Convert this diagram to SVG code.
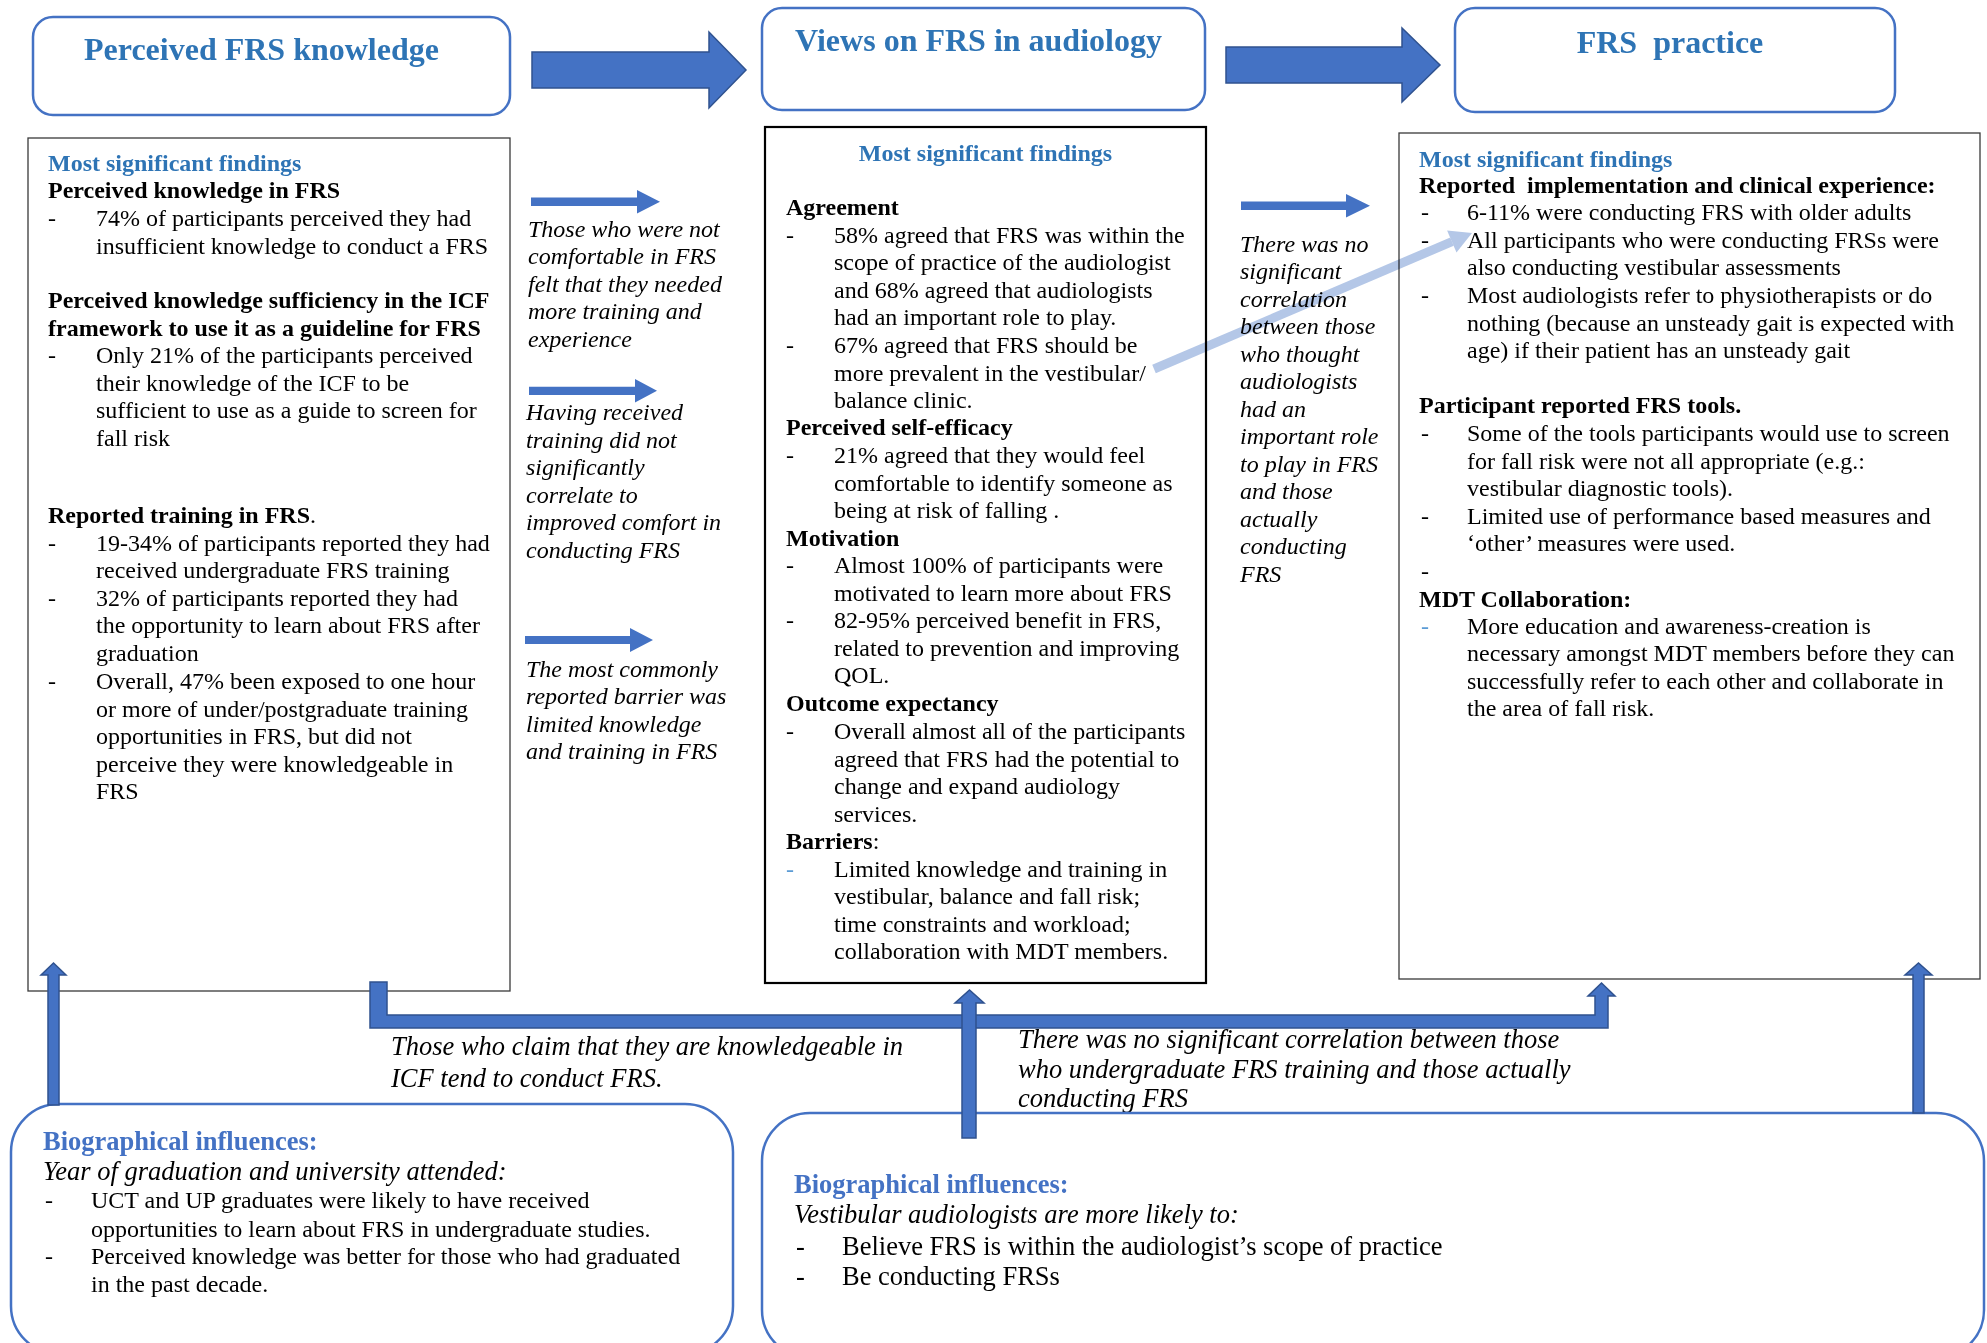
<svg xmlns="http://www.w3.org/2000/svg" width="1987" height="1343" viewBox="0 0 1987 1343">
<style>
text{font-family:"Liberation Serif","Times New Roman",serif;font-size:24px;fill:#000}
.b{font-weight:bold}
.i{font-style:italic}
.bl{fill:#2E74B5}
.bl2{fill:#4472C4}
.dl{fill:#5B9BD5}
.ttl{font-size:32px;font-weight:bold;fill:#2E74B5;text-anchor:middle}
.L{font-size:26.5px}
.hdr{fill:#fff;stroke:#4472C4;stroke-width:2.5}
.bio{fill:#fff;stroke:#4472C4;stroke-width:2.5}
.blk{fill:#4472C4;stroke:#2F528F;stroke-width:1.5}
.sm{fill:#4472C4}
</style>
<rect x="0" y="0" width="1987" height="1343" fill="#fff"/>

<g id="hdr-knowledge">
<rect class="hdr" x="33" y="17" width="477" height="98" rx="20"/>
<text class="ttl" x="261.5" y="59.5">Perceived FRS knowledge</text>
</g>
<g id="hdr-views">
<rect class="hdr" x="762" y="8" width="443" height="102" rx="20"/>
<text class="ttl" x="978.5" y="50.5">Views on FRS in audiology</text>
</g>
<g id="hdr-practice">
<rect class="hdr" x="1455" y="8" width="440" height="104" rx="20"/>
<text class="ttl" x="1670" y="52.5">FRS&#160; practice</text>
</g>

<g id="findings-knowledge">
<rect x="28" y="138" width="482" height="853" fill="#fff" stroke="#3a3a3a" stroke-width="1.3"/>
<text class="b bl" x="48" y="170.5">Most significant findings</text>
<text class="b" x="48" y="198.3">Perceived knowledge in FRS</text>
<text x="48" y="226">-</text><text x="96" y="226">74% of participants perceived they had</text>
<text x="96" y="253.5">insufficient knowledge to conduct a FRS</text>
<text class="b" x="48" y="308.3">Perceived knowledge sufficiency in the ICF</text>
<text class="b" x="48" y="335.7">framework to use it as a guideline for FRS</text>
<text x="48" y="363.3">-</text><text x="96" y="363.3">Only 21% of the participants perceived</text>
<text x="96" y="391">their knowledge of the ICF to be</text>
<text x="96" y="418.3">sufficient to use as a guide to screen for</text>
<text x="96" y="446">fall risk</text>
<text x="48" y="523.3"><tspan class="b">Reported training in FRS</tspan>.</text>
<text x="48" y="550.5">-</text><text x="96" y="550.5">19-34% of participants reported they had</text>
<text x="96" y="578.3">received undergraduate FRS training</text>
<text x="48" y="605.5">-</text><text x="96" y="605.5">32% of participants reported they had</text>
<text x="96" y="633.3">the opportunity to learn about FRS after</text>
<text x="96" y="661">graduation</text>
<text x="48" y="688.5">-</text><text x="96" y="688.5">Overall, 47% been exposed to one hour</text>
<text x="96" y="716.5">or more of under/postgraduate training</text>
<text x="96" y="744">opportunities in FRS, but did not</text>
<text x="96" y="771.7">perceive they were knowledgeable in</text>
<text x="96" y="799">FRS</text>
</g>

<g id="findings-views">
<rect x="765" y="127" width="441" height="856" fill="#fff" stroke="#000" stroke-width="2.2"/>
<text class="b bl" x="985.5" y="160.5" text-anchor="middle">Most significant findings</text>
<text class="b" x="786" y="215">Agreement</text>
<text x="786" y="242.7">-</text><text x="834" y="242.7">58% agreed that FRS was within the</text>
<text x="834" y="270">scope of practice of the audiologist</text>
<text x="834" y="297.7">and 68% agreed that audiologists</text>
<text x="834" y="325">had an important role to play.</text>
<text x="786" y="353.3">-</text><text x="834" y="353.3">67% agreed that FRS should be</text>
<text x="834" y="380.5">more prevalent in the vestibular/</text>
<text x="834" y="407.7">balance clinic.</text>
<text class="b" x="786" y="435">Perceived self-efficacy</text>
<text x="786" y="463">-</text><text x="834" y="463">21% agreed that they would feel</text>
<text x="834" y="490.7">comfortable to identify someone as</text>
<text x="834" y="518.3">being at risk of falling .</text>
<text class="b" x="786" y="546">Motivation</text>
<text x="786" y="573.3">-</text><text x="834" y="573.3">Almost 100% of participants were</text>
<text x="834" y="600.7">motivated to learn more about FRS</text>
<text x="786" y="628.3">-</text><text x="834" y="628.3">82-95% perceived benefit in FRS,</text>
<text x="834" y="656">related to prevention and improving</text>
<text x="834" y="683.3">QOL.</text>
<text class="b" x="786" y="711.3">Outcome expectancy</text>
<text x="786" y="738.7">-</text><text x="834" y="738.7">Overall almost all of the participants</text>
<text x="834" y="766.5">agreed that FRS had the potential to</text>
<text x="834" y="794">change and expand audiology</text>
<text x="834" y="821.7">services.</text>
<text x="786" y="849.3"><tspan class="b">Barriers</tspan>:</text>
<text class="dl" x="786" y="876.8">-</text><text x="834" y="876.8">Limited knowledge and training in</text>
<text x="834" y="904.3">vestibular, balance and fall risk;</text>
<text x="834" y="931.7">time constraints and workload;</text>
<text x="834" y="959.3">collaboration with MDT members.</text>
</g>

<g id="findings-practice">
<rect x="1399" y="133" width="581" height="846" fill="#fff" stroke="#3a3a3a" stroke-width="1.3"/>
<text class="b bl" x="1419" y="166.7">Most significant findings</text>
<text class="b" x="1419" y="192.8">Reported&#160; implementation and clinical experience:</text>
<text x="1421" y="220.3">-</text><text x="1467" y="220.3">6-11% were conducting FRS with older adults</text>
<text x="1421" y="248">-</text><text x="1467" y="248">All participants who were conducting FRSs were</text>
<text x="1467" y="275.3">also conducting vestibular assessments</text>
<text x="1421" y="303">-</text><text x="1467" y="303">Most audiologists refer to physiotherapists or do</text>
<text x="1467" y="330.5">nothing (because an unsteady gait is expected with</text>
<text x="1467" y="358">age) if their patient has an unsteady gait</text>
<text class="b" x="1419" y="413.3">Participant reported FRS tools.</text>
<text x="1421" y="441">-</text><text x="1467" y="441">Some of the tools participants would use to screen</text>
<text x="1467" y="468.5">for fall risk were not all appropriate (e.g.:</text>
<text x="1467" y="496.3">vestibular diagnostic tools).</text>
<text x="1421" y="523.7">-</text><text x="1467" y="523.7">Limited use of performance based measures and</text>
<text x="1467" y="551.3">‘other’ measures were used.</text>
<text x="1421" y="578.7">-</text>
<text class="b" x="1419" y="606.5">MDT Collaboration:</text>
<text class="dl" x="1421" y="633.8">-</text><text x="1467" y="633.8">More education and awareness-creation is</text>
<text x="1467" y="661.3">necessary amongst MDT members before they can</text>
<text x="1467" y="688.7">successfully refer to each other and collaborate in</text>
<text x="1467" y="716.3">the area of fall risk.</text>
</g>

<g id="note-comfort">
<text class="i" x="528" y="236.7">Those who were not</text>
<text class="i" x="528" y="264">comfortable in FRS</text>
<text class="i" x="528" y="291.7">felt that they needed</text>
<text class="i" x="528" y="319.3">more training and</text>
<text class="i" x="528" y="346.7">experience</text>
</g>
<g id="note-training">
<text class="i" x="526" y="420">Having received</text>
<text class="i" x="526" y="447.7">training did not</text>
<text class="i" x="526" y="475.2">significantly</text>
<text class="i" x="526" y="502.8">correlate to</text>
<text class="i" x="526" y="530.3">improved comfort in</text>
<text class="i" x="526" y="558">conducting FRS</text>
</g>
<g id="note-barrier">
<text class="i" x="526" y="676.7">The most commonly</text>
<text class="i" x="526" y="704.3">reported barrier was</text>
<text class="i" x="526" y="731.8">limited knowledge</text>
<text class="i" x="526" y="759.3">and training in FRS</text>
</g>
<g id="note-correlation">
<text class="i" x="1240" y="251.7">There was no</text>
<text class="i" x="1240" y="279.2">significant</text>
<text class="i" x="1240" y="306.7">correlation</text>
<text class="i" x="1240" y="334.2">between those</text>
<text class="i" x="1240" y="361.7">who thought</text>
<text class="i" x="1240" y="389.2">audiologists</text>
<text class="i" x="1240" y="416.7">had an</text>
<text class="i" x="1240" y="444.2">important role</text>
<text class="i" x="1240" y="471.7">to play in FRS</text>
<text class="i" x="1240" y="499.2">and those</text>
<text class="i" x="1240" y="526.7">actually</text>
<text class="i" x="1240" y="554.2">conducting</text>
<text class="i" x="1240" y="581.7">FRS</text>
</g>
<g id="note-icf">
<text class="i L" x="391" y="1055">Those who claim that they are knowledgeable in</text>
<text class="i L" x="391" y="1086.7">ICF tend to conduct FRS.</text>
</g>
<g id="note-undergrad">
<text class="i L" x="1018" y="1048.3">There was no significant correlation between those</text>
<text class="i L" x="1018" y="1078.3">who undergraduate FRS training and those actually</text>
<text class="i L" x="1018" y="1107">conducting FRS</text>
</g>

<g id="bio-graduation">
<rect class="bio" x="11" y="1104" width="722" height="250" rx="48"/>
<text class="b L bl2" x="43" y="1150">Biographical influences:</text>
<text class="i L" x="43" y="1180">Year of graduation and university attended:</text>
<text x="45" y="1208.3">-</text><text x="91" y="1208.3">UCT and UP graduates were likely to have received</text>
<text x="91" y="1236.7">opportunities to learn about FRS in undergraduate studies.</text>
<text x="45" y="1263.5">-</text><text x="91" y="1263.5">Perceived knowledge was better for those who had graduated</text>
<text x="91" y="1291.7">in the past decade.</text>
</g>
<g id="bio-vestibular">
<rect class="bio" x="762" y="1113" width="1222" height="245" rx="48"/>
<text class="b L bl2" x="794" y="1192.7">Biographical influences:</text>
<text class="i L" x="794" y="1222.7">Vestibular audiologists are more likely to:</text>
<text class="L" x="796" y="1255">-</text><text class="L" x="842" y="1255">Believe FRS is within the audiologist’s scope of practice</text>
<text class="L" x="796" y="1285">-</text><text class="L" x="842" y="1285">Be conducting FRSs</text>
</g>

<g id="connectors">
<polygon class="blk" points="532,52 709,52 709,32 746,70 709,108 709,88 532,88"/>
<polygon class="blk" points="1226,47 1402,47 1402,28 1440,65 1402,102 1402,83 1226,83"/>
<polygon class="sm" points="531,197.5 637,197.5 637,190 660,201.7 637,213.4 637,206 531,206"/>
<polygon class="sm" points="529,386.7 635,386.7 635,379 657,390.7 635,402.4 635,395 529,395"/>
<polygon class="sm" points="525,636 630,636 630,628 653,640 630,652 630,644 525,644"/>
<polygon class="sm" points="1241,201.6 1346,201.6 1346,194 1370,205.8 1346,217.5 1346,210 1241,210"/>
<g style="mix-blend-mode:multiply">
<line x1="1154" y1="369" x2="1452" y2="241.6" stroke="#B4C7E7" stroke-width="9"/>
<polygon points="1472,233 1456.5,252.6 1447.1,230.6" fill="#B4C7E7"/>
</g>
<polygon class="blk" points="48,1105 48,975 41,975 53.5,963 66,975 59,975 59,1105"/>
<polygon class="blk" points="1913,1113 1913,975 1905,975 1918.5,963 1932,975 1924,975 1924,1113"/>
<polygon class="blk" points="370,982 387,982 387,1015 1595,1015 1595,996 1588,996 1601.5,983 1615,996 1608,996 1608,1028 370,1028"/>
<polygon class="blk" points="962,1138 962,1003 955,1003 969.5,990 984,1003 976,1003 976,1138"/>
</g>
</svg>
